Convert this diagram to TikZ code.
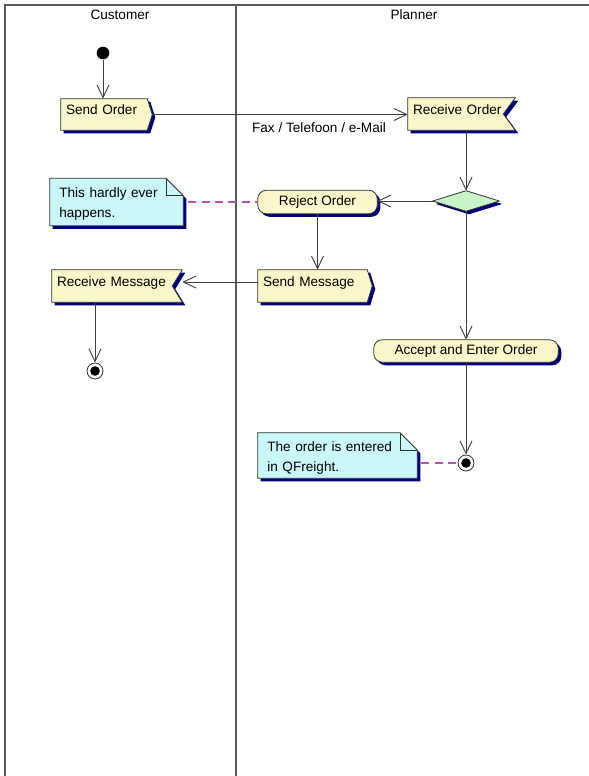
\documentclass[tikz,border=0pt]{standalone}
\usepackage{fontspec}
\setmainfont{Liberation Sans}
\usetikzlibrary{arrows.meta,backgrounds}
\definecolor{boxfill}{RGB}{250,247,202}
\definecolor{notefill}{RGB}{202,247,247}
\definecolor{decfill}{RGB}{200,245,200}
\definecolor{shadowblue}{RGB}{0,0,128}
\definecolor{linkpurple}{RGB}{184,80,190}
\definecolor{edgegray}{RGB}{64,64,64}
\definecolor{lanegray}{RGB}{90,90,90}
\begin{document}
\begin{tikzpicture}[x=0.75pt, y=-0.75pt, font=\fontsize{10.2}{15}\selectfont,
  lane/.style={draw=lanegray, line width=1.1pt},
  arr/.style={draw=edgegray, line width=0.7pt, -{Straight Barb[length=9.5pt,width=9pt]}},
  link/.style={draw=linkpurple, line width=1.1pt, dash pattern=on 6pt off 4pt},
  boxline/.style={draw=black!80, line width=0.6pt},
  shad/.style={fill=shadowblue, transform canvas={shift={(2.25pt,-2.25pt)}}},
  sig/.style={rectangle, inner xsep=3.75pt, inner ysep=0pt, align=left, text height=7pt, text depth=7pt},
  act/.style={rectangle, inner sep=0pt},
  notebox/.style={rectangle, inner xsep=7pt, inner ysep=0pt, align=left},
  startnode/.style={circle, fill=black, minimum size=9.5pt, inner sep=0pt},
  endnode/.style={circle, draw=black!80, line width=0.6pt, fill=white, minimum size=12pt, inner sep=0pt,
    path picture={\fill[black] (path picture bounding box.center) circle (3.6pt);}},
  sendp/.style={insert path={(#1.north west) -- ([xshift=-3.75pt]#1.north east) -- (#1.east) -- ([xshift=-3.75pt]#1.south east) -- (#1.south west) -- cycle}},
  recvp/.style 2 args={insert path={(#1.north west) -- (#1.north east) -- ([xshift=-#2]#1.east) -- (#1.south east) -- (#1.south west) -- cycle}},
  notep/.style={insert path={(#1.south west) -- (#1.north west) -- ([xshift=-13pt]#1.north east) -- ([yshift=-13pt]#1.north east) -- (#1.south east) -- cycle}},
  diap/.style={insert path={(#1.north) -- (#1.east) -- (#1.south) -- (#1.west) -- cycle}}
]
\useasboundingbox (0,0) rectangle (589,776);

% swimlanes
\draw[lane] (5,776) -- (5,5) -- (589,5);
\draw[lane] (236,5) -- (236,776);
\node (cust) at (120,15) {Customer};
\node (plan) at (414,15) {Planner};

% nodes
\node[startnode] (st) at (103,53) {};
\node[sig, minimum width=68.25pt, minimum height=23.25pt, text width=60.75pt] (so) at (106.5,114.5) {Send Order};
\node[sig, minimum width=80.25pt, minimum height=24pt, text width=72.75pt] (ro) at (461.5,114) {Receive Order};
\node[act, minimum width=49.5pt, minimum height=15pt] (dia) at (466,201) {};
\node[act, minimum width=89.25pt, minimum height=17.25pt] (rj) at (317.5,202) {Reject Order};
\node[sig, minimum width=85.5pt, minimum height=24pt, text width=78pt] (sm) at (315,286) {Send Message};
\node[sig, minimum width=97.5pt, minimum height=24pt, text width=90pt] (rm) at (117,286) {Receive Message};
\node[endnode] (e1) at (95,371) {};
\node[act, minimum width=138pt, minimum height=16.5pt] (acc) at (466,351) {Accept and Enter Order};
\node[endnode] (e2) at (466,463) {};
\node[notebox, minimum width=99.75pt, minimum height=35.25pt, text width=85.75pt] (n1) at (116.5,202) {\rule{0pt}{11pt}This hardly ever\\happens.};
\node[notebox, minimum width=119.25pt, minimum height=33.75pt, text width=105.25pt] (n2) at (337.5,455.5) {\rule{0pt}{11pt}The order is entered\\in QFreight.};
\node (fax) at (319,128) {Fax / Telefoon / e-Mail};

% shapes behind the texts
\begin{scope}[on background layer]
  \fill[shad, sendp=so];  \filldraw[boxline, fill=boxfill, sendp=so];
  \fill[shad, recvp={ro}{9pt}];  \filldraw[boxline, fill=boxfill, recvp={ro}{9pt}];
  \fill[shad, diap=dia];  \filldraw[boxline, fill=decfill, diap=dia];
  \fill[shad, rounded corners=6.5pt] (rj.south west) rectangle (rj.north east);
  \filldraw[boxline, fill=boxfill, rounded corners=6.5pt] (rj.south west) rectangle (rj.north east);
  \fill[shad, sendp=sm];  \filldraw[boxline, fill=boxfill, sendp=sm];
  \fill[shad, recvp={rm}{7.5pt}];  \filldraw[boxline, fill=boxfill, recvp={rm}{7.5pt}];
  \fill[shad, rounded corners=6.5pt] (acc.south west) rectangle (acc.north east);
  \filldraw[boxline, fill=boxfill, rounded corners=6.5pt] (acc.south west) rectangle (acc.north east);
  \fill[shad, notep=n1];  \filldraw[boxline, fill=notefill, notep=n1];
  \draw[boxline] ([xshift=-13pt]n1.north east) -- ([xshift=-13pt,yshift=-13pt]n1.north east) -- ([yshift=-13pt]n1.north east);
  \fill[shad, notep=n2];  \filldraw[boxline, fill=notefill, notep=n2];
  \draw[boxline] ([xshift=-13pt]n2.north east) -- ([xshift=-13pt,yshift=-13pt]n2.north east) -- ([yshift=-13pt]n2.north east);
\end{scope}

% connectors
\draw[arr] (st) -- (st |- so.north);
\draw[arr] (so.east) -- (so.east -| ro.west);
\draw[arr] (ro.south -| dia.north) -- (dia.north);
\draw[arr] (dia.west) -- (dia.west -| rj.east);
\draw[arr] (rj.south) -- (rj.south |- sm.north);
\draw[arr] ([yshift=3pt]sm.west) -- ([yshift=3pt]rm.east);
\draw[arr] (rm.south -| e1) -- (e1);
\draw[arr] (dia.south) -- (acc.north);
\draw[arr] (acc.south) -- (e2);
\draw[link] ([xshift=3.75pt]n1.east) -- (rj.west);
\draw[link] ([xshift=3pt]n2.east |- e2) -- (e2.west);
\end{tikzpicture}
\end{document}
